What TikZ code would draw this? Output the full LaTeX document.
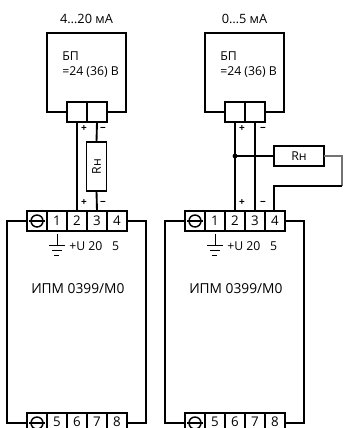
\documentclass[tikz,border=0pt]{standalone}
\usepackage{fontspec}
\setmainfont{Open Sans}
\tikzset{x=0.75pt,y=-0.75pt}
\tikzset{wire/.style={line width=1.4pt},
	thinwire/.style={line width=0.8pt,black!55},
	backwire/.style={line width=1pt},
	boxnode/.style={draw,line width=1.1pt,fill=white,inner sep=0pt,outer sep=0pt},
	cell/.style={boxnode,minimum width=15pt,minimum height=15pt,font=\fontsize{10}{10}\selectfont},
	celltext/.style={font=\fontsize{10}{10}\selectfont,inner sep=0pt},
	titletext/.style={font=\fontsize{9.6}{11}\selectfont,inner sep=0pt},
	midtext/.style={font=\fontsize{9.2}{11}\selectfont,inner sep=0pt,anchor=west},
	sign/.style={font=\fontsize{7.5}{7.5}\selectfont\bfseries,inner sep=0pt}}
% one instrument: #1 prefix, #2 shift in x, #3 title
\newcommand{\supplyunit}[3]{
	\node[titletext] (#1title) at (#2+86.5,19) {#3};
	\node[boxnode,minimum width=59.25pt,minimum height=59.25pt] (#1bp) at (#2+86.5,72.5) {};
	\node[midtext] (#1bpa) at (#2+62,56) {БП};
	\node[midtext] (#1bpb) at (#2+62,72.5) {=24 (36) В};
	\node[cell] (#1ta) at (#2+77,112) {};
	\node[cell] (#1tb) at (#2+97,112) {};
}
\newcommand{\meterunit}[2]{
	\node[boxnode,minimum width=104.25pt,minimum height=151.5pt] (#1body) at (#2+76.5,322) {};
	\node[cell] (#1gnd) at (#2+37,221) {};
	\node[cell] (#1one) at (#2+57,221) {1};
	\node[cell] (#1two) at (#2+77,221) {2};
	\node[cell] (#1three) at (#2+97,221) {3};
	\node[cell] (#1four) at (#2+117,221) {4};
	\node[cell] (#1gndb) at (#2+37,423) {};
	\node[cell] (#1five) at (#2+57,423) {};
	\node[cell] (#1six) at (#2+77,423) {};
	\node[cell] (#1seven) at (#2+97,423) {};
	\node[cell] (#1eight) at (#2+117,423) {};
	\node[celltext] (#1fivet) at (#2+57,422) {5};
	\node[celltext] (#1sixt) at (#2+77,422) {6};
	\node[celltext] (#1sevent) at (#2+97,422) {7};
	\node[celltext] (#1eightt) at (#2+117,422) {8};
	\draw[line width=1.1pt] (#1gnd.center) circle (6);
	\draw[line width=1.1pt] (#1gnd.west) ++(2,0) -- ++(16,0);
	\draw[line width=1.1pt] (#1gndb.center) circle (6);
	\draw[line width=1.1pt] (#1gndb.west) ++(2,0) -- ++(16,0);
	\coordinate (#1earth) at (#2+57,234);
	\draw[line width=0.7pt] (#1earth) -- ++(0,11) ++(-8,0) -- ++(16,0) ++(-13,5) -- ++(10,0) ++(-8,5) -- ++(5,0);
	\node[midtext] (#1u) at (#2+69,246) {+U 20\hspace{0.8em}5};
	\node[midtext,font=\fontsize{10.3}{12}\selectfont] (#1name) at (#2+31,289) {ИПМ 0399/М0};
}

\begin{document}
\begin{tikzpicture}
	\useasboundingbox (0,0) rectangle (343,428);
	% left scheme
	\supplyunit{a}{0}{4…20 мА}
	\meterunit{a}{0}
	\node[boxnode,minimum width=15pt,minimum height=37pt] (arn) at (96.5,166.5) {};
	\node[midtext,anchor=center,rotate=90] (arnt) at (96.5,166.5) {Rн};
	\draw[wire] (ata.south) -- (atwo.north);
	\draw[wire] (atb.south) -- (arn.north);
	\draw[wire] (arn.south) -- (athree.north);
	\node[sign] (apa) at (84,129) {+};
	\node[sign] (ama) at (103,129) {−};
	\node[sign] (apb) at (84,203) {+};
	\node[sign] (amb) at (103,203) {−};
	% right scheme
	\supplyunit{b}{158}{0…5 мА}
	\meterunit{b}{158}
	\node[boxnode,minimum width=37.5pt,minimum height=15pt,font=\fontsize{9.2}{11}\selectfont] (brn) at (299,156) {Rн};
	\coordinate (bjoin) at (235,156);
	\coordinate (bout) at (342,156);
	\coordinate (bback) at (342,186);
	\coordinate (bturn) at (274,186);
	\draw[wire] (bta.south) -- (btwo.north);
	\draw[wire] (btb.south) -- (bthree.north);
	\draw[wire] (bjoin) -- (brn.west);
	\fill (bjoin) circle (2.4);
	\draw[thinwire] (brn.east) -- (bout) -- (bback);
	\draw[backwire] (bback) -- (bturn) -- (bturn |- bfour.north);
	\node[sign] (bpa) at (242,129) {+};
	\node[sign] (bma) at (263,129) {−};
	\node[sign] (bpb) at (242,203) {+};
	\node[sign] (bmb) at (263,203) {−};
\end{tikzpicture}
\end{document}
